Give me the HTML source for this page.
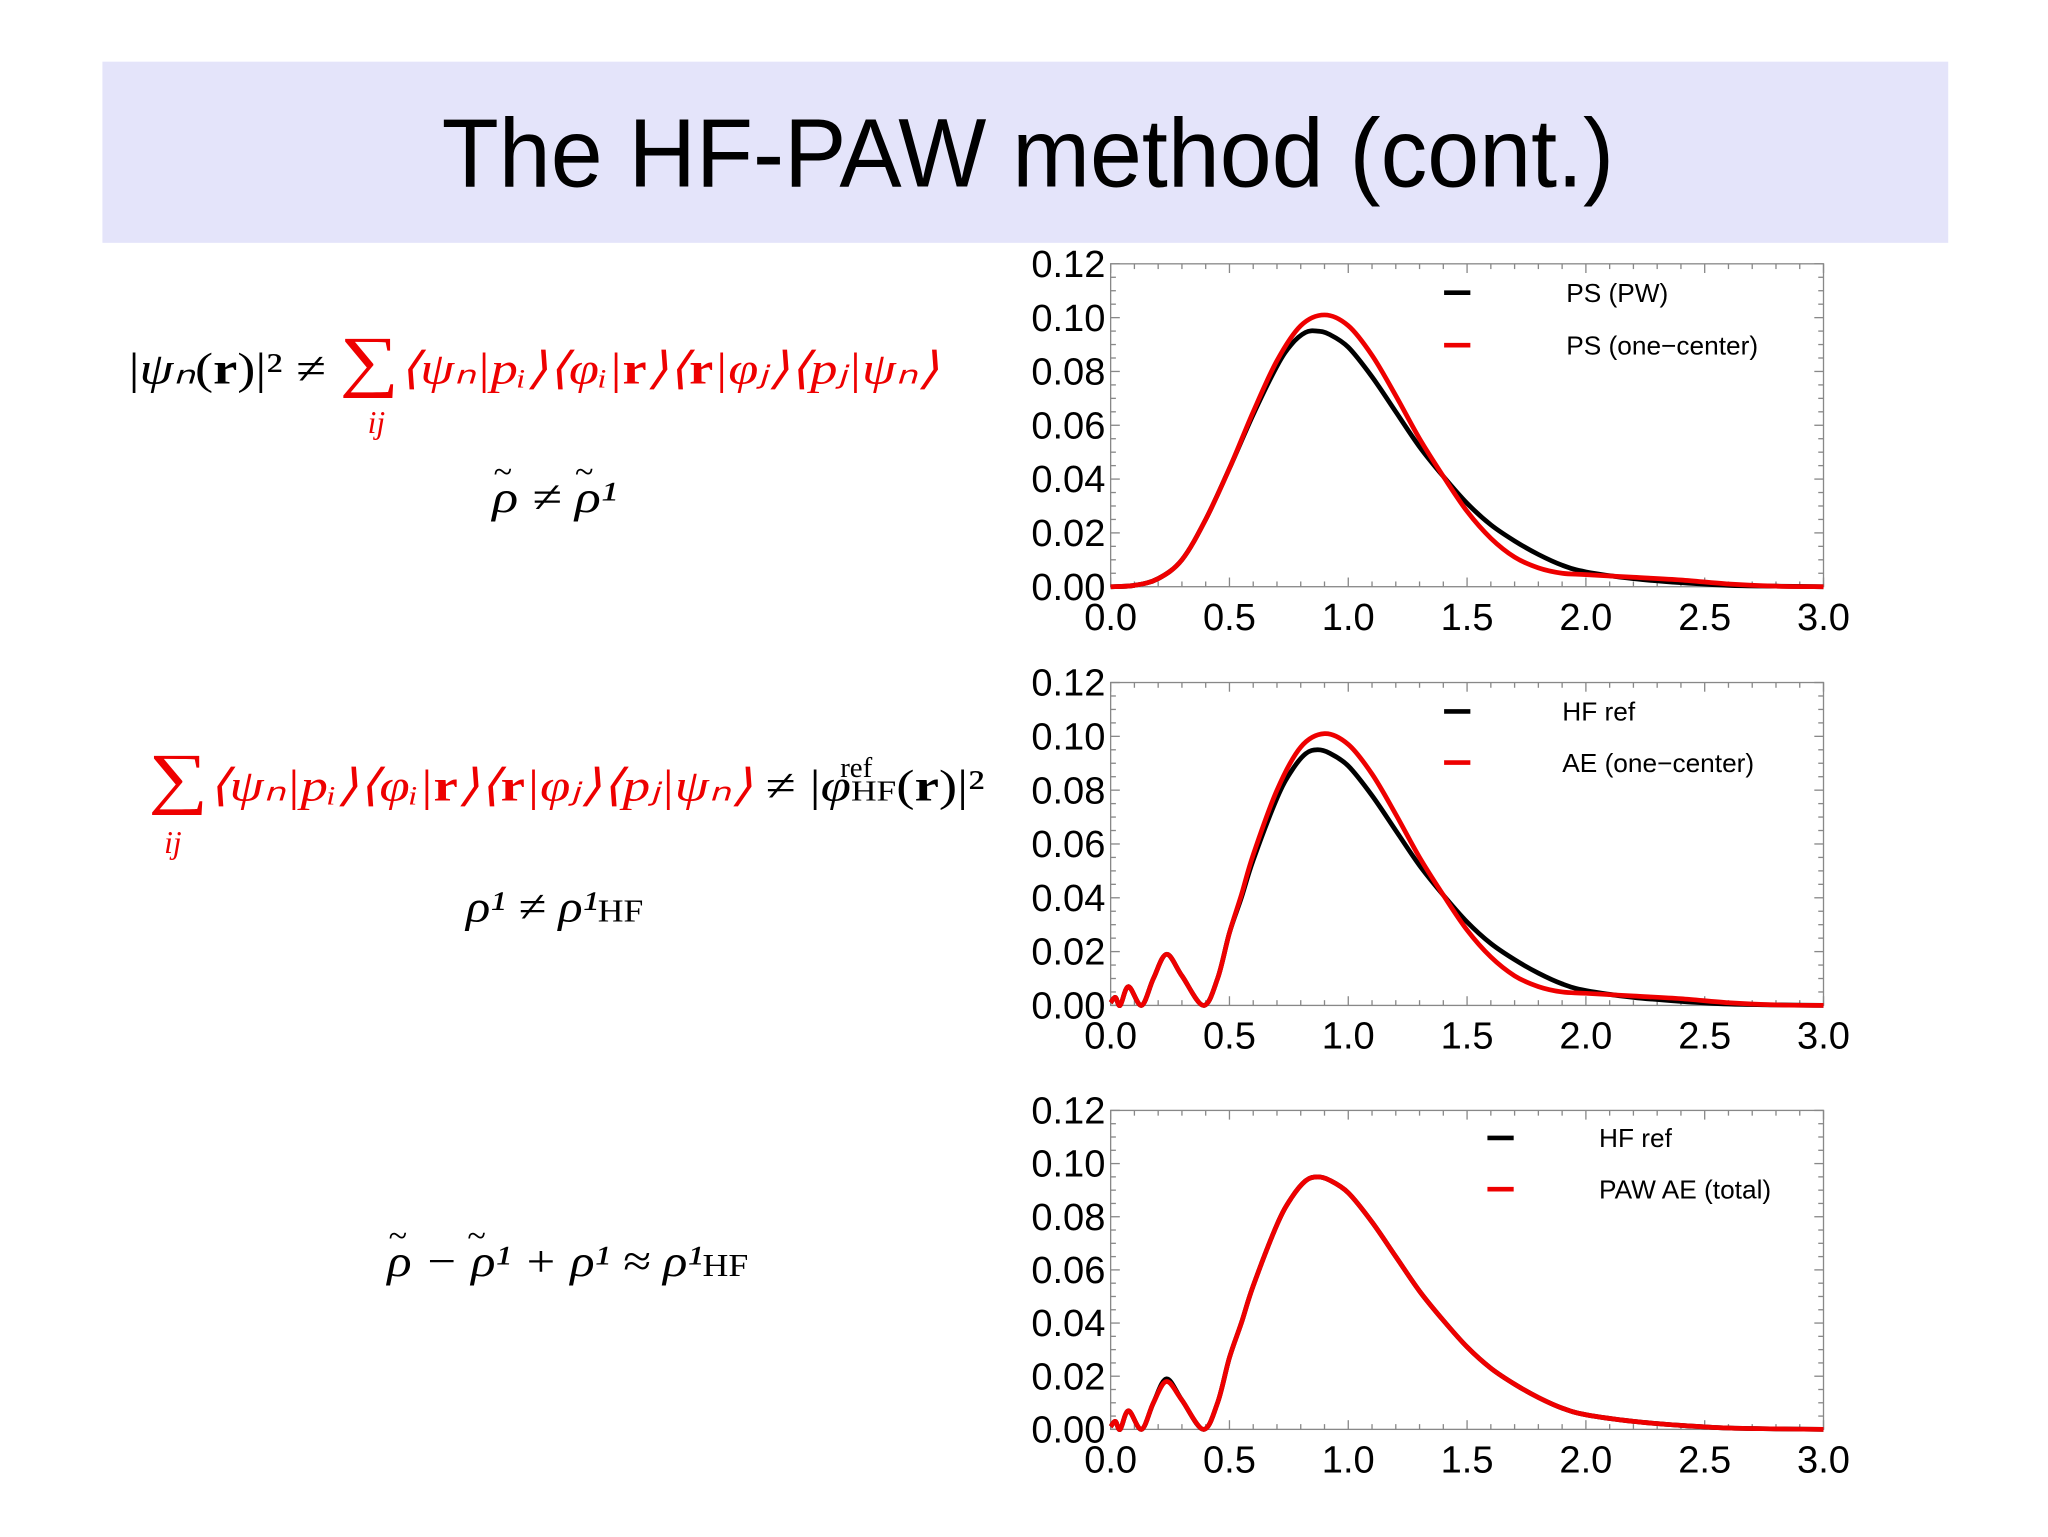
<!DOCTYPE html>
<html><head><meta charset="utf-8"><style>
html,body{margin:0;padding:0;background:#fff;}
svg{display:block;}
.tk{font-family:"Liberation Sans",sans-serif;font-size:29px;fill:#000;}
.lg{font-family:"Liberation Sans",sans-serif;font-size:20px;fill:#000;}
.m{font-family:"Liberation Serif",serif;font-size:34px;}
</style></head><body>
<svg id="root" width="2048" height="1537" viewBox="0 0 1560 1171" preserveAspectRatio="none" xmlns="http://www.w3.org/2000/svg">
<rect x="78" y="47" width="1406" height="138" fill="#e4e4fa"/>
<text x="783" y="142" text-anchor="middle" font-family="'Liberation Sans Narrow','Liberation Sans',sans-serif" font-size="74" textLength="893" lengthAdjust="spacingAndGlyphs">The HF-PAW method (cont.)</text>

<g class="m">
<text x="98" y="292" textLength="617" lengthAdjust="spacingAndGlyphs"><tspan>|<tspan font-style="italic">ψₙ</tspan>(<tspan font-weight="bold">r</tspan>)|² ≠ </tspan><tspan fill="#e00" font-size="52">∑</tspan><tspan fill="#e00" font-style="italic">⟨ψₙ|pᵢ⟩⟨φᵢ|<tspan font-weight="bold" font-style="normal">r</tspan>⟩⟨<tspan font-weight="bold" font-style="normal">r</tspan>|φⱼ⟩⟨pⱼ|ψₙ⟩</tspan></text>
<text x="280" y="330" fill="#e00" font-style="italic" font-size="24">ij</text>
</g>
<g class="m">
<text x="375" y="390" font-style="italic" textLength="95" lengthAdjust="spacingAndGlyphs">ρ ≠ ρ¹</text>
<text x="376" y="368" font-size="26">~</text><text x="438" y="368" font-size="26">~</text>
</g>
<g class="m">
<text x="113" y="610" textLength="637" lengthAdjust="spacingAndGlyphs"><tspan fill="#e00" font-size="52">∑</tspan><tspan fill="#e00" font-style="italic">⟨ψₙ|pᵢ⟩⟨φᵢ|<tspan font-weight="bold" font-style="normal">r</tspan>⟩⟨<tspan font-weight="bold" font-style="normal">r</tspan>|φⱼ⟩⟨pⱼ|ψₙ⟩</tspan><tspan> ≠ |<tspan font-style="italic">φ</tspan><tspan font-size="22">HF</tspan>(<tspan font-weight="bold">r</tspan>)|²</tspan></text>
<text x="640" y="592" font-size="22">ref</text>
<text x="125" y="650" fill="#e00" font-style="italic" font-size="24">ij</text>
</g>
<text class="m" x="355" y="702" font-style="italic" textLength="135" lengthAdjust="spacingAndGlyphs">ρ¹ ≠ ρ¹<tspan font-style="normal" font-size="24">HF</tspan></text>
<g class="m">
<text x="295" y="972" font-style="italic" textLength="275" lengthAdjust="spacingAndGlyphs">ρ − ρ¹ + ρ¹ ≈ ρ¹<tspan font-style="normal" font-size="24">HF</tspan></text>
<text x="296" y="950" font-size="26">~</text><text x="356" y="950" font-size="26">~</text>
</g>
<g id="charts"></g>
</svg>
<script>
// Chart data
const psX = [0,0.1,0.2,0.3,0.4,0.5,0.6,0.7,0.76,0.82,0.87,0.92,1.0,1.1,1.2,1.3,1.4,1.5,1.6,1.7,1.8,1.9,2.0,2.2,2.4,2.6,2.8,3.0];
const psPW = [0,0.0005,0.003,0.01,0.025,0.044,0.064,0.082,0.09,0.0945,0.095,0.0938,0.089,0.078,0.065,0.052,0.041,0.031,0.023,0.017,0.012,0.008,0.0055,0.003,0.0015,0.0005,0.0002,0];
const psOneX = [0,0.1,0.2,0.3,0.4,0.5,0.6,0.7,0.8,0.9,1.0,1.1,1.2,1.3,1.4,1.5,1.6,1.7,1.8,1.9,2.0,2.2,2.4,2.6,2.8,3.0];
const psOne = [0,0.0005,0.003,0.01,0.025,0.044,0.065,0.084,0.097,0.101,0.097,0.086,0.071,0.055,0.041,0.028,0.018,0.011,0.007,0.005,0.0045,0.0035,0.0025,0.001,0.0002,0];
const hfX = [0,0.02,0.04,0.075,0.13,0.18,0.235,0.3,0.39,0.45,0.5,0.55,0.6,0.7,0.76,0.82,0.87,0.92,1.0,1.1,1.2,1.3,1.4,1.5,1.6,1.7,1.8,1.9,2.0,2.2,2.4,2.6,2.8,3.0];
const hfRef = [0.001,0.003,0,0.007,0,0.01,0.019,0.011,0,0.01,0.027,0.04,0.054,0.077,0.087,0.0935,0.095,0.0938,0.089,0.078,0.065,0.052,0.041,0.031,0.023,0.017,0.012,0.008,0.0055,0.003,0.0015,0.0005,0.0002,0];
const aeX = [0,0.02,0.04,0.075,0.13,0.18,0.235,0.3,0.39,0.45,0.5,0.55,0.6,0.7,0.8,0.9,1.0,1.1,1.2,1.3,1.4,1.5,1.6,1.7,1.8,1.9,2.0,2.2,2.4,2.6,2.8,3.0];
const aeOne = [0.001,0.003,0,0.007,0,0.01,0.019,0.011,0,0.01,0.027,0.041,0.056,0.08,0.096,0.101,0.097,0.086,0.071,0.055,0.041,0.028,0.018,0.011,0.007,0.005,0.0045,0.0035,0.0025,0.001,0.0002,0];
const pawTotal = [0.001,0.003,0,0.007,0,0.01,0.018,0.011,0,0.01,0.027,0.04,0.054,0.077,0.087,0.0935,0.095,0.0938,0.089,0.078,0.065,0.052,0.041,0.031,0.023,0.017,0.012,0.008,0.0055,0.003,0.0015,0.0005,0.0002,0];
const xTicks = ["0.0","0.5","1.0","1.5","2.0","2.5","3.0"];
const yTicks = ["0.00","0.02","0.04","0.06","0.08","0.10","0.12"];
const legend1 = ["PS (PW)","PS (one\u2212center)"];
const legend2 = ["HF ref","AE (one\u2212center)"];
const legend3 = ["HF ref","PAW AE (total)"];

const NS="http://www.w3.org/2000/svg";
const root=document.getElementById('charts');
function mk(tag,attrs,parent){const e=document.createElementNS(NS,tag);for(const k in attrs)e.setAttribute(k,attrs[k]);parent.appendChild(e);return e;}
function smooth(pts){let d='M'+pts[0][0]+','+pts[0][1];for(let i=0;i<pts.length-1;i++){const p0=pts[Math.max(0,i-1)],p1=pts[i],p2=pts[i+1],p3=pts[Math.min(pts.length-1,i+2)];const c1x=p1[0]+(p2[0]-p0[0])/6,c1y=p1[1]+(p2[1]-p0[1])/6,c2x=p2[0]-(p3[0]-p1[0])/6,c2y=p2[1]-(p3[1]-p1[1])/6;d+=' C'+c1x+','+c1y+' '+c2x+','+c2y+' '+p2[0]+','+p2[1];}return d;}
function chart(name,top,bottom,series,legend,legX,legTX,legY){
  const L=846,R=1389;
  const sx=v=>L+(R-L)*v/3, sy=v=>bottom-(bottom-top)*v/0.12;
  const g=mk('g',{},root);
  
  
  const fr=mk('rect',{x:L,y:top,width:R-L,height:bottom-top,fill:'none',stroke:'#888','stroke-width':1},g);
  
  
  for(let i=0;i<=30;i++){const x=sx(i/10),len=i%5===0?7:4;
    mk('line',{x1:x,x2:x,y1:bottom,y2:bottom-len,stroke:'#888'},g);
    mk('line',{x1:x,x2:x,y1:top,y2:top+len,stroke:'#888'},g);}
  for(let i=0;i<=24;i++){const y=sy(i*0.005),len=i%4===0?7:4;
    mk('line',{x1:L,x2:L+len,y1:y,y2:y,stroke:'#888'},g);
    mk('line',{x1:R,x2:R-len,y1:y,y2:y,stroke:'#888'},g);}
  xTicks.forEach(t=>{const e=mk('text',{x:sx(parseFloat(t)),y:bottom+33,'text-anchor':'middle',class:'tk'},g);e.textContent=t;
    
    });
  yTicks.forEach(t=>{const e=mk('text',{x:L-4,y:sy(parseFloat(t))+10,'text-anchor':'end',class:'tk'},g);e.textContent=t;
    
    });
  series.forEach((s,k)=>{const pts=s.x.map((xv,i)=>[sx(xv),sy(s.y[i])]);
    const p=mk('path',{d:smooth(pts),fill:'none',stroke:s.c,'stroke-width':3.6,'stroke-linejoin':'round'},g);
    
    
    const ly=top+legY[k];
    const ln=mk('line',{x1:legX,x2:legX+20,y1:ly,y2:ly,stroke:s.c,'stroke-width':3.5},g);
    
    
    const t=mk('text',{x:legTX,y:ly+7,class:'lg'},g);t.textContent=legend[k];
    
    });
}
chart('chart-ps',201,447,[{x:psX,y:psPW,c:'#000'},{x:psOneX,y:psOne,c:'#e00'}],legend1,1100,1193,[22,62]);
chart('chart-ae',520,766,[{x:hfX,y:hfRef,c:'#000'},{x:aeX,y:aeOne,c:'#e00'}],legend2,1100,1190,[22,61]);
chart('chart-total',846,1089,[{x:hfX,y:hfRef,c:'#000'},{x:hfX,y:pawTotal,c:'#e00'}],legend3,1133,1218,[21,60]);
</script>
</body></html>
